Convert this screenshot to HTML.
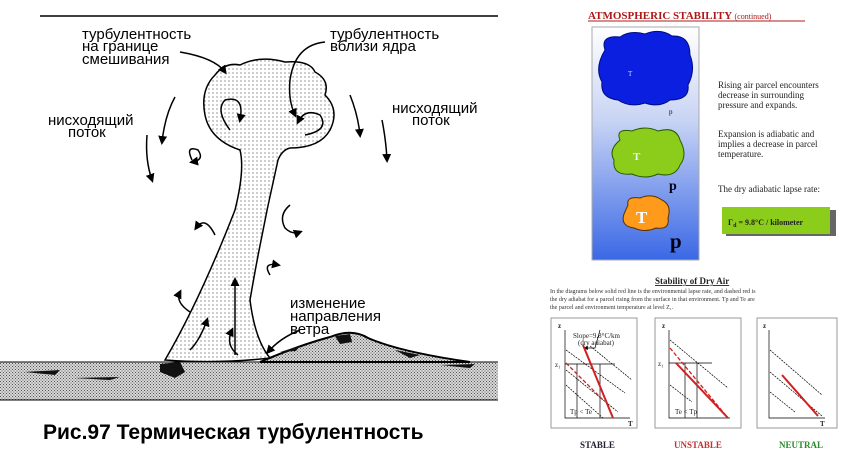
<!DOCTYPE html>
<html><head><meta charset="utf-8"><style>
html,body{margin:0;padding:0;background:#fff;width:857px;height:457px;overflow:hidden}
svg{display:block}
</style></head><body>
<svg width="857" height="457" viewBox="0 0 857 457" xmlns="http://www.w3.org/2000/svg">
<defs>
<pattern id="dots" width="4" height="4" patternUnits="userSpaceOnUse"><rect width="4" height="4" fill="#fff"/><circle cx="1" cy="1" r="0.6" fill="#555"/></pattern>
<pattern id="grd" width="3" height="3" patternUnits="userSpaceOnUse"><rect width="3" height="3" fill="#d8d8d8"/><rect width="1" height="1" fill="#555"/><rect x="1.5" y="1.5" width="1" height="1" fill="#555"/></pattern>
<linearGradient id="sky" x1="0" y1="0" x2="0" y2="1"><stop offset="0" stop-color="#fff"/><stop offset="0.4" stop-color="#c8d4f4"/><stop offset="1" stop-color="#3a68e6"/></linearGradient>
<marker id="ah" markerWidth="6" markerHeight="6" refX="4" refY="3" orient="auto"><path d="M0,0 L6,3 L0,6z" fill="#000"/></marker>
</defs>
<!-- LEFT PANEL -->
<line x1="40" y1="16" x2="498" y2="16" stroke="#000" stroke-width="1.5"/>
<rect x="0" y="362" width="498" height="38" fill="url(#grd)"/>
<line x1="0" y1="362" x2="498" y2="362" stroke="#000"/>
<line x1="0" y1="400" x2="498" y2="400" stroke="#000"/>
<path d="M260,362 Q300,345 330,337 Q352,328 368,338 Q400,352 470,362Z" fill="url(#grd)" stroke="#000" stroke-width="2"/>
<g fill="#111">
<path d="M160,364 L180,362 L185,372 L175,378 L160,372Z"/>
<path d="M25,372 L60,370 L55,375Z M75,378 L120,377 L110,380Z"/>
<path d="M280,352 L300,346 L296,351Z M335,336 L350,334 L352,342 L340,344Z M395,350 L420,355 L410,358Z M440,365 L475,364 L470,368Z"/>
</g>
<path d="M165,360 Q200,300 235,210 Q245,170 240,150 Q210,140 205,115 Q200,90 215,75 Q225,62 240,65 Q260,55 285,62 Q310,60 315,72 Q330,80 325,95 Q340,110 330,130 Q320,148 290,148 Q282,150 278,160 Q262,230 250,300 Q255,340 270,358 Q220,364 165,360Z" fill="url(#dots)" stroke="#000" stroke-width="1.5"/>
<g fill="none" stroke="#000" stroke-width="1.5" marker-end="url(#ah)">
<path d="M175,97 Q165,115 162,142"/><path d="M147,135 Q145,160 152,180"/>
<path d="M350,95 Q358,115 360,135"/><path d="M382,120 Q386,140 387,160"/>
<path d="M230,130 Q215,110 225,100 Q245,95 240,120"/>
<path d="M305,135 Q330,130 320,115 Q305,108 298,122"/>
<path d="M192,160 Q185,145 198,150 Q205,160 192,162"/>
<path d="M215,235 Q205,215 196,228"/><path d="M290,205 Q278,215 285,228 Q292,235 300,232"/>
<path d="M270,275 Q262,262 278,265"/><path d="M190,312 Q175,302 180,292"/>
<path d="M235,355 L235,280"/><path d="M190,350 Q200,340 207,320"/><path d="M238,355 Q225,345 232,330"/>
<path d="M180,52 Q215,58 225,72"/><path d="M325,42 Q295,45 290,80 Q288,100 295,115"/>
<path d="M300,330 Q280,338 268,352"/>
</g>
<g font-family="'Liberation Sans','Noto Sans CJK SC',sans-serif" font-size="15" fill="#000">
<text x="82" y="39">турбулентность</text><text x="82" y="51">на границе</text><text x="82" y="64">смешивания</text>
<text x="330" y="39">турбулентность</text><text x="330" y="51">вблизи ядра</text>
<text x="48" y="125">нисходящий</text><text x="68" y="137">поток</text>
<text x="392" y="113">нисходящий</text><text x="412" y="125">поток</text>
<text x="290" y="308">изменение</text><text x="290" y="321">направления</text><text x="290" y="334">ветра</text>
<text x="43" y="439" font-size="21" font-weight="bold">Рис.97 Термическая турбулентность</text>
</g>
<!-- RIGHT PANEL -->
<g font-family="'Liberation Serif',serif">
<text x="588" y="19" font-size="11" font-weight="bold" fill="#b01818">ATMOSPHERIC  STABILITY <tspan font-size="8" font-weight="normal">(continued)</tspan></text>
<line x1="588" y1="21" x2="805" y2="21" stroke="#b01818"/>
<rect x="592" y="27" width="107" height="233" fill="url(#sky)" stroke="#aaa"/>
<path d="M605,50 Q600,35 620,37 Q630,30 645,34 Q660,28 672,36 Q690,35 690,55 Q696,70 688,85 Q690,100 670,100 Q660,108 645,103 Q630,108 618,100 Q600,98 602,82 Q594,68 605,50Z" fill="#0a1fe0" stroke="#000a80"/>
<path d="M620,140 Q615,128 632,131 Q645,125 658,131 Q676,126 680,140 Q688,155 680,165 Q675,178 658,174 Q645,180 632,174 Q612,176 614,160 Q608,150 620,140Z" fill="#8ccd1c" stroke="#2a5a00"/>
<path d="M628,205 Q626,196 640,198 Q652,193 662,200 Q672,205 668,218 Q670,230 656,228 Q645,233 634,228 Q620,226 624,214Z" fill="#ff9a1a" stroke="#5a3000"/>
<text x="628" y="76" font-size="7" fill="#dde">T</text>
<text x="633" y="160" font-size="11" font-weight="bold" fill="#eef">T</text>
<text x="636" y="223" font-size="17" font-weight="bold" fill="#fff">T</text>
<text x="669" y="114" font-size="7" fill="#001">p</text>
<text x="669" y="190" font-size="14" font-weight="bold" fill="#001">p</text>
<text x="670" y="248" font-size="21" font-weight="bold" fill="#001">p</text>
<g font-size="9" fill="#222">
<text x="718" y="88">Rising air parcel encounters</text><text x="718" y="98">decrease in surrounding</text><text x="718" y="108">pressure and expands.</text>
<text x="718" y="137">Expansion is adiabatic and</text><text x="718" y="147">implies a decrease in parcel</text><text x="718" y="157">temperature.</text>
<text x="718" y="192">The dry adiabatic lapse rate:</text>
</g>
<rect x="726" y="210" width="110" height="26" fill="#666"/>
<rect x="722" y="207" width="108" height="27" fill="#8ccc1a"/>
<text x="728" y="225" font-size="8" font-weight="bold" fill="#222">Γ<tspan font-size="6" dy="2">d</tspan><tspan dy="-2"> =  9.8°C / kilometer</tspan></text>
<text x="655" y="284" font-size="9" font-weight="bold" fill="#222" text-decoration="underline">Stability of Dry Air</text>
<g font-size="6" fill="#333">
<text x="550" y="293">In the diagrams below solid red line is the environmental lapse rate, and dashed red is</text>
<text x="550" y="301">the dry adiabat for a parcel rising from the surface in that environment. Tp and Te are</text>
<text x="550" y="309">the parcel and environment temperature at level Z₁.</text>
</g>
<g fill="#fff" stroke="#999"><rect x="551" y="318" width="86" height="110"/><rect x="655" y="318" width="86" height="110"/><rect x="757" y="318" width="80" height="110"/></g>
<g stroke="#000" stroke-width="0.7" fill="none">
<path d="M565,330 V418 H630"/><path d="M669,330 V418 H730"/><path d="M769,330 V418 H825"/>
<g stroke-dasharray="2,1"><path d="M566,350 L625,393"/><path d="M566,370 L618,412"/><path d="M566,385 L603,418"/><path d="M590,346 L632,380"/>
<path d="M670,340 L728,388"/><path d="M670,385 L692,402"/>
<path d="M770,350 L822,395"/><path d="M770,372 L822,416"/><path d="M770,392 L795,412"/></g>
<path d="M565,364 H615"/><path d="M577,364 V418"/><path d="M600,364 V418"/><path d="M669,363 H712"/><path d="M685,363 V418"/><path d="M697,363 V418"/>
<path d="M600,330 L595,348 L585,348" marker-end="url(#ah)"/>
</g>
<g stroke="#d02020" stroke-width="2" fill="none"><path d="M583,345 L613,418"/><path d="M676,363 L728,418"/><path d="M782,375 L818,416"/></g>
<g stroke="#d02020" stroke-width="1.3" fill="none" stroke-dasharray="4,2"><path d="M566,363 L603,400"/><path d="M670,348 L728,418"/></g>
<g font-size="7" fill="#222"><text x="558" y="328" font-weight="bold">z</text><text x="662" y="328" font-weight="bold">z</text><text x="763" y="328" font-weight="bold">z</text>
<text x="628" y="426" font-weight="bold">T</text><text x="820" y="426" font-weight="bold">T</text>
<text x="555" y="367">z₁</text><text x="658" y="366">z₁</text>
<text x="573" y="338">Slope=9.8°C/km</text><text x="578" y="345">(dry adiabat)</text>
<text x="570" y="414">Tp &lt; Te</text><text x="675" y="414">Te &lt; Tp</text></g>
<g font-size="9" font-weight="bold"><text x="580" y="448" fill="#223">STABLE</text><text x="674" y="448" fill="#c83030">UNSTABLE</text><text x="779" y="448" fill="#2a8a2a">NEUTRAL</text></g>
</g>
</svg>
</body></html>
